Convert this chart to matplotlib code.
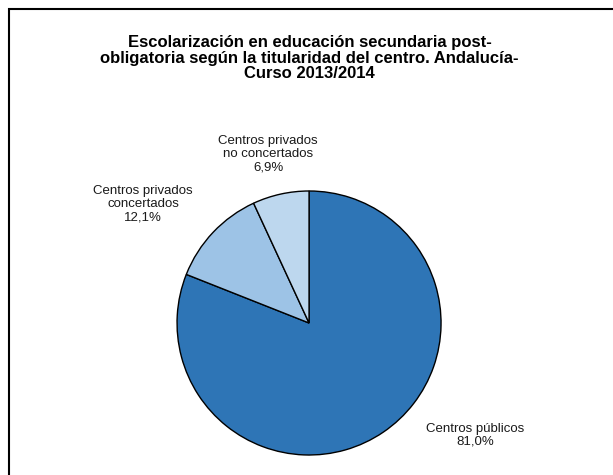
import matplotlib.pyplot as plt
from matplotlib.patches import Rectangle

plt.rcParams['font.family'] = ['Liberation Sans', 'DejaVu Sans']

labels = ['Centros públicos', 'Centros privados\nconcertados', 'Centros privados\nno concertados']
values = [81.0, 12.1, 6.9]
colors = ['#2E75B6', '#9DC3E6', '#BDD7EE']
# label anchor positions in pie data units (radius = 1)
label_pos = [(1.258, -0.85), (-1.258, 0.90), (-0.31, 1.28)]

fig = plt.figure(figsize=(6.13, 4.75), dpi=100)
fig.patches.append(Rectangle((9 / 613, -0.1), 1.1, 1 - 9 / 475 + 0.1, transform=fig.transFigure,
                             fill=False, edgecolor='black', linewidth=1.5))

ax = fig.add_axes([0.2888, 0.0421, 0.4307, 0.5558])
ax.pie(values, colors=colors, startangle=90, counterclock=False,
       wedgeprops=dict(edgecolor='black', linewidth=1))
ax.set_xlim(-1, 1)
ax.set_ylim(-1, 1)
ax.set_aspect('equal')

for lab, v, (x, y) in zip(labels, values, label_pos):
    txt = lab + '\n' + f'{v:.1f}%'.replace('.', ',')
    ax.text(x, y, txt, ha='center', va='center', fontsize=9.5, color='#1a1a1a',
            linespacing=1.15, clip_on=False)

fig.text(0.505, 1 - 58 / 475,
         'Escolarización en educación secundaria post-\n'
         'obligatoria según la titularidad del centro. Andalucía-\n'
         'Curso 2013/2014',
         ha='center', va='center', fontsize=12, fontweight='bold', linespacing=1.05)

fig.savefig('out.png', dpi=100)
